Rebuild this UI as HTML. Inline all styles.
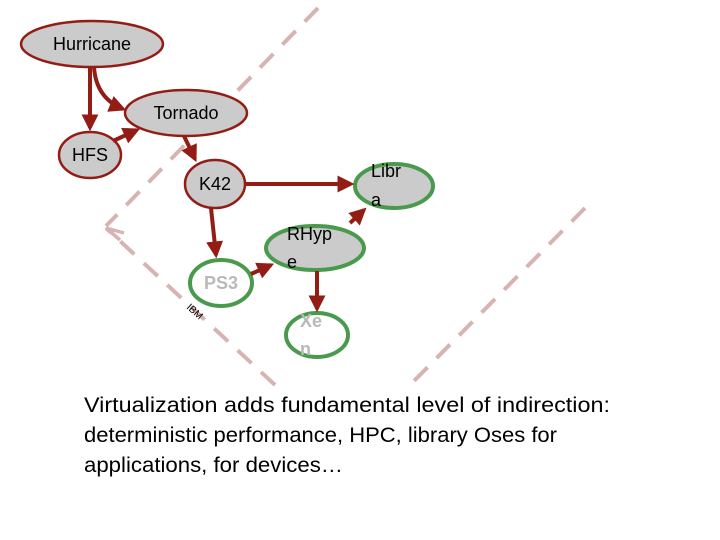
<!DOCTYPE html>
<html><head><meta charset="utf-8"><style>
html,body{margin:0;padding:0;background:#fff;}
svg{display:block;font-family:"Liberation Sans",sans-serif;}
</style></head><body>
<svg width="720" height="540" viewBox="0 0 720 540" xmlns="http://www.w3.org/2000/svg">
<defs>
<marker id="ar" markerWidth="17" markerHeight="17" refX="8" refY="5" orient="auto" markerUnits="userSpaceOnUse" viewBox="0 0 10 10">
<path d="M0,0 L10,5 L0,10 z" fill="#931c14"/></marker>
</defs>
<g stroke="#d7b3b1" stroke-width="4" stroke-dasharray="19,13" fill="none">
<line x1="318" y1="8" x2="106" y2="226"/>
<line x1="275" y1="385" x2="106" y2="228"/>
<line x1="585" y1="208" x2="410" y2="385"/>
</g>
<path d="M120,240 L106,228 L124,233" fill="none" stroke="#d7b3b1" stroke-width="3.5"/>
<text x="0" y="0" font-size="10" transform="translate(186,308) rotate(42)">IBM</text>

<g stroke="#931c14" stroke-width="2.5" fill="#cbcbcb">
<ellipse cx="92" cy="44" rx="71" ry="23"/>
<ellipse cx="186" cy="113" rx="61" ry="23"/>
<ellipse cx="90" cy="155" rx="31" ry="23"/>
<ellipse cx="215" cy="184" rx="30" ry="24"/>
</g>
<g stroke="#4a9a4e" stroke-width="4">
<ellipse cx="394" cy="186" rx="39" ry="22" fill="#cbcbcb"/>
<ellipse cx="315" cy="248" rx="49" ry="22" fill="#cbcbcb"/>
<ellipse cx="221" cy="283" rx="31" ry="23" fill="#fff"/>
<ellipse cx="317" cy="335" rx="31" ry="22" fill="#fff"/>
</g>
<g stroke="#931c14" stroke-width="4" fill="none" marker-end="url(#ar)">
<line x1="90" y1="67" x2="90" y2="128"/>
<path d="M94,67 Q96,98 123,109"/>
<line x1="113" y1="141" x2="137" y2="130"/>
<line x1="184" y1="136" x2="195" y2="159"/>
<line x1="245" y1="184" x2="351" y2="184"/>
<line x1="211" y1="208" x2="216" y2="255"/>
<line x1="251" y1="274" x2="271" y2="265"/>
<line x1="350" y1="223" x2="364" y2="210"/>
<line x1="317" y1="271" x2="317" y2="309"/>
</g>
<g font-size="18" fill="#000" text-anchor="middle">
<text x="92" y="50">Hurricane</text>
<text x="186" y="119">Tornado</text>
<text x="90" y="161">HFS</text>
<text x="215" y="190">K42</text>
</g>
<g font-size="18" fill="#000">
<text x="371" y="177">Libr</text>
<text x="371" y="206">a</text>
<text x="287" y="240">RHyp</text>
<text x="287" y="268">e</text>
</g>
<g font-size="18" fill="#b9b9b9" font-weight="bold">
<text x="221" y="289" text-anchor="middle">PS3</text>
<text x="300" y="327">Xe</text>
<text x="300" y="355">n</text>
</g>
<rect x="70" y="388" width="560" height="100" fill="#fff"/>
<g font-size="21" fill="#000">
<text x="84" y="412" textLength="526" lengthAdjust="spacingAndGlyphs">Virtualization adds fundamental level of indirection:</text>
<text x="84" y="442" textLength="473" lengthAdjust="spacingAndGlyphs">deterministic performance, HPC, library Oses for</text>
<text x="84" y="472" textLength="259" lengthAdjust="spacingAndGlyphs">applications, for devices…</text>
</g>
</svg>
</body></html>
